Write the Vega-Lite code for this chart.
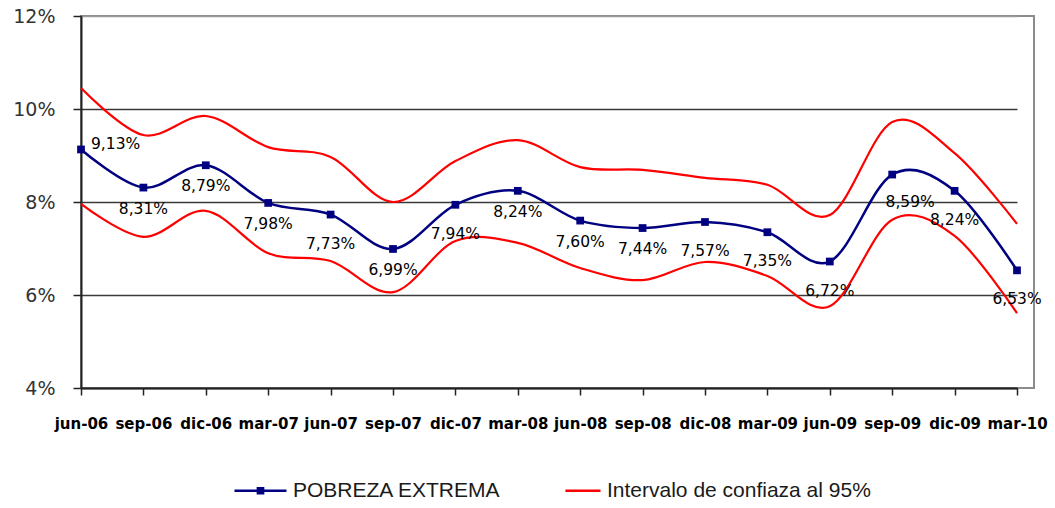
{
  "$schema": "https://vega.github.io/schema/vega-lite/v6.json",
  "autosize": "none",
  "width": 953,
  "height": 372,
  "padding": {"left": 81, "top": 16, "right": 21, "bottom": 120},
  "background": "white",
  "config": {
    "locale": {"number": {"decimal": ",", "thousands": ".", "grouping": [3], "currency": ["", " €"]}},
    "view": {"stroke": "#8c8c8c", "strokeWidth": 2}
  },
  "data": {
    "values": [
      {"i": 0, "mes": "jun-06", "pobreza": 0.0913, "sup": 0.1045, "inf": 0.0796},
      {"i": 1, "mes": "sep-06", "pobreza": 0.0831, "sup": 0.0944, "inf": 0.0725},
      {"i": 2, "mes": "dic-06", "pobreza": 0.0879, "sup": 0.0985, "inf": 0.0781},
      {"i": 3, "mes": "mar-07", "pobreza": 0.0798, "sup": 0.0918, "inf": 0.0690},
      {"i": 4, "mes": "jun-07", "pobreza": 0.0773, "sup": 0.0897, "inf": 0.0673},
      {"i": 5, "mes": "sep-07", "pobreza": 0.0699, "sup": 0.0800, "inf": 0.0606},
      {"i": 6, "mes": "dic-07", "pobreza": 0.0794, "sup": 0.0888, "inf": 0.0716},
      {"i": 7, "mes": "mar-08", "pobreza": 0.0824, "sup": 0.0933, "inf": 0.0712},
      {"i": 8, "mes": "jun-08", "pobreza": 0.0760, "sup": 0.0875, "inf": 0.0658},
      {"i": 9, "mes": "sep-08", "pobreza": 0.0744, "sup": 0.0869, "inf": 0.0632},
      {"i": 10, "mes": "dic-08", "pobreza": 0.0757, "sup": 0.0852, "inf": 0.0671},
      {"i": 11, "mes": "mar-09", "pobreza": 0.0735, "sup": 0.0837, "inf": 0.0641},
      {"i": 12, "mes": "jun-09", "pobreza": 0.0672, "sup": 0.0772, "inf": 0.0576},
      {"i": 13, "mes": "sep-09", "pobreza": 0.0859, "sup": 0.0972, "inf": 0.0762},
      {"i": 14, "mes": "dic-09", "pobreza": 0.0824, "sup": 0.0905, "inf": 0.0727},
      {"i": 15, "mes": "mar-10", "pobreza": 0.0653, "sup": 0.0753, "inf": 0.0561}
    ]
  },
  "encoding": {
    "x": {
      "field": "mes",
      "type": "ordinal",
      "sort": null,
      "scale": {"type": "point", "range": [0, 936], "padding": 0},
      "axis": {
        "title": null,
        "labelAngle": 0,
        "labelOverlap": false,
        "labelFont": "DejaVu Sans",
        "labelFontWeight": "bold",
        "labelFontSize": 15,
        "labelColor": "#000000",
        "labelPadding": 21,
        "labelBaseline": "top",
        "tickSize": 7,
        "tickColor": "#222222",
        "tickWidth": 1.5,
        "domainColor": "#222222",
        "domainWidth": 2,
        "grid": false
      }
    }
  },
  "layer": [
    {
      "transform": [{"fold": ["sup", "inf"], "as": ["banda", "v"]}],
      "mark": {"type": "line", "interpolate": "cardinal", "strokeWidth": 2.2},
      "encoding": {
        "y": {"field": "v", "type": "quantitative"},
        "detail": {"field": "banda"},
        "color": {"datum": "Intervalo de confiaza al 95%"}
      }
    },
    {
      "mark": {"type": "line", "interpolate": "cardinal", "strokeWidth": 2.5},
      "encoding": {
        "y": {
          "field": "pobreza",
          "type": "quantitative",
          "scale": {"domain": [0.04, 0.12], "nice": false, "zero": false},
          "axis": {
            "title": null,
            "values": [0.04, 0.06, 0.08, 0.10, 0.12],
            "format": ".0%",
            "labelFont": "DejaVu Sans",
            "labelFontSize": 19,
            "labelColor": "#333333",
            "labelPadding": 18,
            "tickSize": 8,
            "tickColor": "#222222",
            "tickWidth": 1.5,
            "domainColor": "#222222",
            "domainWidth": 2,
            "grid": true,
            "gridColor": {"condition": {"test": "datum.value >= 0.12", "value": "#9a9a9a"}, "value": "#3a3a3a"},
            "gridWidth": 1.3
          }
        },
        "color": {
          "datum": "POBREZA EXTREMA",
          "scale": {"domain": ["POBREZA EXTREMA", "Intervalo de confiaza al 95%"], "range": ["#000080", "#ff0000"]},
          "legend": {
            "title": null,
            "orient": "none",
            "direction": "horizontal",
            "legendX": 152,
            "legendY": 447,
            "padding": 0,
            "symbolSize": 2704,
            "symbolStrokeWidth": 2.5,
            "labelFont": "Liberation Sans",
            "labelFontSize": 21,
            "labelColor": "#1a1a1a",
            "labelOffset": 5,
            "labelLimit": 400,
            "columnPadding": 46,
            "encode": {
              "symbols": {
                "update": {
                  "shape": {"signal": "datum.value === 'POBREZA EXTREMA' ? 'M-1,0H1M-0.1,-0.1H0.1V0.1H-0.1Z' : 'M-0.35,0H1'"}
                }
              }
            }
          }
        }
      }
    },
    {
      "mark": {"type": "square", "size": 60, "filled": true, "color": "#000080", "opacity": 1},
      "encoding": {
        "y": {"field": "pobreza", "type": "quantitative"}
      }
    },
    {
      "transform": [{"filter": "datum.i === 0"}],
      "mark": {"type": "text", "align": "left", "baseline": "middle", "dx": 10, "dy": -5, "font": "DejaVu Sans", "fontSize": 15.5, "color": "#000000"},
      "encoding": {
        "y": {"field": "pobreza", "type": "quantitative"},
        "text": {"field": "pobreza", "type": "quantitative", "format": ".2%"}
      }
    },
    {
      "transform": [{"filter": "indexof([1,2,3,5,7,8,9], datum.i) >= 0"}],
      "mark": {"type": "text", "align": "center", "baseline": "middle", "dy": 21, "font": "DejaVu Sans", "fontSize": 15.5, "color": "#000000"},
      "encoding": {
        "y": {"field": "pobreza", "type": "quantitative"},
        "text": {"field": "pobreza", "type": "quantitative", "format": ".2%"}
      }
    },
    {
      "transform": [{"filter": "indexof([4,6,10,11,12,14,15], datum.i) >= 0"}],
      "mark": {"type": "text", "align": "center", "baseline": "middle", "dy": 29, "font": "DejaVu Sans", "fontSize": 15.5, "color": "#000000"},
      "encoding": {
        "y": {"field": "pobreza", "type": "quantitative"},
        "text": {"field": "pobreza", "type": "quantitative", "format": ".2%"}
      }
    },
    {
      "transform": [{"filter": "datum.i === 13"}],
      "mark": {"type": "text", "align": "center", "baseline": "middle", "dx": 18, "dy": 27, "font": "DejaVu Sans", "fontSize": 15.5, "color": "#000000"},
      "encoding": {
        "y": {"field": "pobreza", "type": "quantitative"},
        "text": {"field": "pobreza", "type": "quantitative", "format": ".2%"}
      }
    }
  ]
}
